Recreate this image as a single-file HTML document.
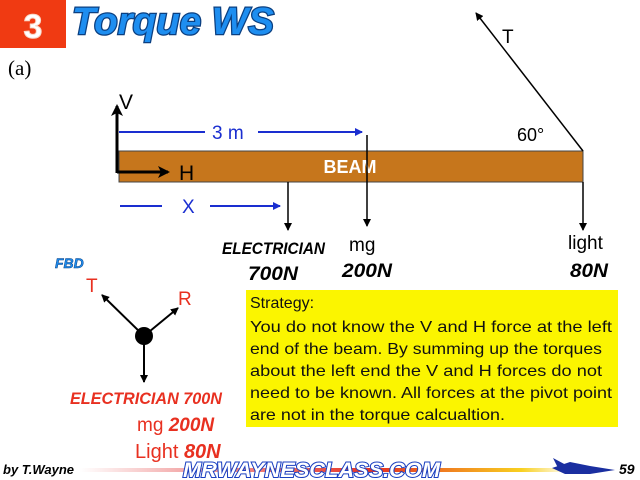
<!DOCTYPE html>
<html><head><meta charset="utf-8"><style>
html,body{margin:0;padding:0;background:#fff;}
svg{display:block;}
</style></head><body>
<svg width="640" height="480" viewBox="0 0 640 480" xmlns="http://www.w3.org/2000/svg" font-family="Liberation Sans, sans-serif">
<defs>
<marker id="ab" markerWidth="8" markerHeight="8" refX="7" refY="4" orient="auto" markerUnits="userSpaceOnUse"><path d="M0,0 L8,4 L0,8 z" fill="#000"/></marker>
<marker id="ab2" markerWidth="12" markerHeight="12" refX="10" refY="6" orient="auto" markerUnits="userSpaceOnUse"><path d="M0,0 L12,6 L0,12 L3,6 z" fill="#000"/></marker>
<marker id="ablue" markerWidth="8" markerHeight="8" refX="7" refY="4" orient="auto" markerUnits="userSpaceOnUse"><path d="M0,0 L8,4 L0,8 z" fill="#1a2ed0"/></marker>
<linearGradient id="fg" x1="0" x2="1"><stop offset="0" stop-color="#fff"/><stop offset="0.2" stop-color="#f4b0b0"/><stop offset="0.6" stop-color="#e83020"/><stop offset="0.9" stop-color="#f8d020"/><stop offset="1" stop-color="#fff"/></linearGradient>
</defs>
<rect x="0" y="0" width="66" height="48" fill="#f03a12"/>
<text x="33" y="38" text-anchor="middle" font-size="34" font-weight="bold" fill="#fff" stroke="#f8d8c8" stroke-width="1">3</text>
<text x="72" y="34" font-size="38" font-weight="bold" font-style="italic" fill="#1e8ef0" stroke="#0b3f80" stroke-width="2.5" paint-order="stroke" textLength="202" lengthAdjust="spacingAndGlyphs">Torque WS</text>
<text x="8" y="75" font-size="21" font-family="Liberation Serif, serif">(a)</text>
<rect x="119" y="151" width="464" height="31" fill="#c6761c" stroke="#444" stroke-width="1"/>
<text x="350" y="173" text-anchor="middle" font-size="18" font-weight="bold" fill="#fff">BEAM</text>
<line x1="117" y1="173" x2="117" y2="106" stroke="#000" stroke-width="3" marker-end="url(#ab2)"/>
<line x1="117" y1="172" x2="168" y2="172" stroke="#000" stroke-width="3" marker-end="url(#ab2)"/>
<text x="119" y="109" font-size="21">V</text>
<text x="179" y="180" font-size="21">H</text>
<line x1="119" y1="132" x2="205" y2="132" stroke="#1a2ed0" stroke-width="2"/>
<text x="212" y="139" font-size="19" fill="#1a2ed0">3 m</text>
<line x1="258" y1="132" x2="362" y2="132" stroke="#1a2ed0" stroke-width="2" marker-end="url(#ablue)"/>
<line x1="120" y1="206" x2="162" y2="206" stroke="#1a2ed0" stroke-width="2"/>
<text x="182" y="213" font-size="19" fill="#1a2ed0">X</text>
<line x1="210" y1="206" x2="280" y2="206" stroke="#1a2ed0" stroke-width="2" marker-end="url(#ablue)"/>
<line x1="288" y1="182" x2="288" y2="230" stroke="#000" stroke-width="1.5" marker-end="url(#ab)"/>
<line x1="367" y1="135" x2="367" y2="226" stroke="#000" stroke-width="1.5" marker-end="url(#ab)"/>
<line x1="583" y1="182" x2="583" y2="230" stroke="#000" stroke-width="1.5" marker-end="url(#ab)"/>
<line x1="583" y1="151" x2="476" y2="13" stroke="#000" stroke-width="1.5" marker-end="url(#ab)"/>
<text x="502" y="43" font-size="19">T</text>
<text x="517" y="141" font-size="18">60°</text>
<text x="222" y="254" font-size="17" font-weight="bold" font-style="italic" textLength="103" lengthAdjust="spacingAndGlyphs">ELECTRICIAN</text>
<text x="248" y="280" font-size="19" font-weight="bold" font-style="italic" textLength="50" lengthAdjust="spacingAndGlyphs">700N</text>
<text x="349" y="251" font-size="19">mg</text>
<text x="342" y="277" font-size="19" font-weight="bold" font-style="italic" textLength="50" lengthAdjust="spacingAndGlyphs">200N</text>
<text x="568" y="249" font-size="19">light</text>
<text x="570" y="277" font-size="19" font-weight="bold" font-style="italic" textLength="38" lengthAdjust="spacingAndGlyphs">80N</text>
<text x="55" y="268" font-size="14" font-weight="bold" font-style="italic" fill="#1e8ef0" stroke="#0b3f80" stroke-width="0.5">FBD</text>
<text x="86" y="292" font-size="19" fill="#e83020">T</text>
<text x="178" y="305" font-size="19" fill="#e83020">R</text>
<circle cx="144" cy="336" r="9" fill="#000"/>
<line x1="144" y1="336" x2="102" y2="295" stroke="#000" stroke-width="2" marker-end="url(#ab)"/>
<line x1="144" y1="336" x2="178" y2="308" stroke="#000" stroke-width="2" marker-end="url(#ab)"/>
<line x1="144" y1="336" x2="144" y2="382" stroke="#000" stroke-width="2" marker-end="url(#ab)"/>
<text x="70" y="404" font-size="17" font-weight="bold" font-style="italic" fill="#e83020" textLength="152" lengthAdjust="spacingAndGlyphs">ELECTRICIAN 700N</text>
<text x="137" y="431" font-size="19" fill="#e83020">mg <tspan font-weight="bold" font-style="italic">200N</tspan></text>
<text x="135" y="458" font-size="20" fill="#e83020">Light <tspan font-weight="bold" font-style="italic">80N</tspan></text>
<rect x="246" y="290" width="372" height="137" fill="#fbf500"/>
<g font-size="16" fill="#111">
<text x="250" y="308">Strategy:</text>
<text x="250" y="332" textLength="362" lengthAdjust="spacingAndGlyphs">You do not know the V and H force at the left</text>
<text x="250" y="354" textLength="352" lengthAdjust="spacingAndGlyphs">end of the beam. By summing up the torques</text>
<text x="250" y="376" textLength="352" lengthAdjust="spacingAndGlyphs">about the left end the V and H forces do not</text>
<text x="250" y="398" textLength="362" lengthAdjust="spacingAndGlyphs">need to be known. All forces at the pivot point</text>
<text x="250" y="420" textLength="255" lengthAdjust="spacingAndGlyphs">are not in the torque calcualtion.</text>
</g>
<rect x="80" y="468" width="490" height="4" fill="url(#fg)"/>
<text x="3" y="474" font-size="13" font-weight="bold" font-style="italic">by T.Wayne</text>
<text x="183" y="477" font-size="21" font-weight="bold" font-style="italic" fill="#fff" stroke="#1a3fc0" stroke-width="2" paint-order="stroke" textLength="257" lengthAdjust="spacingAndGlyphs">MRWAYNESCLASS.COM</text>
<path d="M552,468 L570,462 L590,466 L615,470 L590,474 L565,474 Z" fill="#1a2ea0"/>
<path d="M553,458 L568,466 L558,468 Z" fill="#1a2ea0"/>
<text x="619" y="474" font-size="14" font-weight="bold" font-style="italic">59</text>
</svg>
</body></html>
